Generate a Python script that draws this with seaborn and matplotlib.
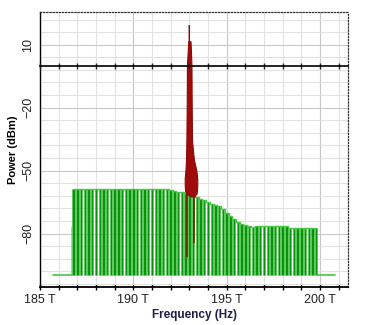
import numpy as np
import matplotlib
matplotlib.use("Agg")
import matplotlib.pyplot as plt
import seaborn as sns
import pandas as pd
from matplotlib.ticker import FixedLocator, MultipleLocator

# ---------------- data ----------------
channel_freq_thz = np.round(np.arange(186.8, 199.81, 0.2), 1)
channel_power_dbm = (
    [-59.0] * 19 +
    [-58.6] * 7 +
    [-59.2, -59.6, -60.0, -60.4, -60.9, -61.5, -62.0, -62.6, -63.4, -64.2,
     -65.0, -65.7, -66.3, -67.0, -68.4, -70.0, -71.5, -73.0, -74.3, -75.3,
     -76.0, -76.6, -76.7, -76.6, -76.3, -76.2] +
    [-76.2] * 6 +
    [-77.2] * 8
)
floor_dbm = -100.0
floor_left_freq = [185.7, 186.7]
floor_right_freq = [199.85, 200.8]
step_freq = [186.66]
step_power = [-76.2]

red_freq = [192.80, 192.78, 192.78, 192.82, 192.85, 192.87, 192.89, 192.90, 192.95, 192.97,
            192.995, 193.0, 193.005, 193.09, 193.12, 193.14, 193.15, 193.17, 193.27,
            193.40, 193.45, 193.45, 193.42, 193.30, 193.10, 192.90]
red_power = [-60, -57, -54, -50, -45, -36, -16, 0, 8, 11.4,
             11.4, 19.4, 11.4, 11.4, 5, 0, -16, -36, -45,
             -50, -54, -58, -61, -62.5, -62.5, -61.5]
red_line_freq = [192.85, 193.27]
red_line_bottom = [-91.0, -84.5]

x_major = [185, 190, 195, 200]
x_labels = ["185 T", "190 T", "195 T", "200 T"]
y_major = [10, -20, -50, -80]

# ---------------- figure ----------------
sns.set_style("white")
plt.rcParams["font.family"] = ["Liberation Sans", "DejaVu Sans"]

fig = plt.figure(figsize=(3.67, 3.25), dpi=100)
ax = fig.add_axes([40 / 367, 38 / 325, 308 / 367, 275 / 325])

green_fill = "#08940a"
green_edge = "#46c846"

comb = pd.DataFrame({"f": channel_freq_thz, "p": channel_power_dbm})
ax.bar(comb["f"], comb["p"] - floor_dbm, bottom=floor_dbm, width=0.13,
       color=green_fill, edgecolor=green_edge, linewidth=0.4, zorder=3)
ax.bar(step_freq, np.array(step_power) - floor_dbm, bottom=floor_dbm, width=0.05,
       color=green_fill, edgecolor=green_edge, linewidth=0.4, zorder=3)
sns.lineplot(data=comb, x="f", y="p", drawstyle="steps-mid", color=green_edge,
             linewidth=1.0, ax=ax, zorder=4)
sns.lineplot(x=floor_left_freq, y=[floor_dbm] * 2, color=green_edge, linewidth=1.2, ax=ax, zorder=4)
sns.lineplot(x=floor_right_freq, y=[floor_dbm] * 2, color=green_edge, linewidth=1.2, ax=ax, zorder=4)

# red signal
ax.vlines(red_line_freq, red_line_bottom, [-60, -60], color="#7a1e06", linewidth=1.2, zorder=5)
ax.fill(red_freq, red_power, color="#9e0b0b", zorder=6, linewidth=0.8, edgecolor="#8a0808")

# axes range
ax.set_xlim(185, 201.5)
ax.set_ylim(-105.5, 25.6)

# grid
ax.xaxis.set_major_locator(FixedLocator(x_major))
ax.xaxis.set_minor_locator(MultipleLocator(1))
ax.yaxis.set_major_locator(FixedLocator(y_major))
ax.yaxis.set_minor_locator(FixedLocator(list(range(22, -106, -6))))
ax.grid(which="minor", color="#e2e2e2", linewidth=0.8, zorder=0)
ax.grid(which="major", color="#c8c8c8", linewidth=0.8, zorder=0)
ax.set_axisbelow(True)

ax.set_xticklabels(x_labels)
ax.tick_params(axis="x", which="both", direction="inout", length=4, width=1,
               labelsize=9, pad=3, colors="black", labelcolor="#222222")
ax.tick_params(axis="y", which="both", direction="inout", length=4, width=1,
               labelsize=9, pad=2, colors="black", labelcolor="#222222")
for lab in ax.get_yticklabels():
    lab.set_rotation(90)
    lab.set_va("center")

# spines
ax.spines["left"].set_color("black")
ax.spines["left"].set_linewidth(1.0)
for s in ["top", "right"]:
    ax.spines[s].set_color("#333333")
    ax.spines[s].set_linestyle((0, (1, 1.5)))
    ax.spines[s].set_linewidth(0.9)
ax.spines["bottom"].set_color("black")
ax.spines["bottom"].set_linestyle((0, (1, 1)))
ax.spines["bottom"].set_linewidth(1.3)

# zero line with ticks
ax0 = ax.twiny()
ax0.set_xlim(ax.get_xlim())
ax0.spines["bottom"].set_position(("data", 0))
for s in ["top", "right", "left"]:
    ax0.spines[s].set_visible(False)
ax0.spines["bottom"].set_color("black")
ax0.spines["bottom"].set_linewidth(1.2)
ax0.xaxis.set_ticks_position("bottom")
ax0.xaxis.set_major_locator(MultipleLocator(1))
ax0.tick_params(axis="x", direction="inout", length=4, width=1, labelbottom=False, labeltop=False)
ax0.grid(False)

ax.set_xlabel("Frequency (Hz)", fontsize=8.5, fontweight="bold", color="#1a1f4d", labelpad=2)
ax.set_ylabel("Power (dBm)", fontsize=8, fontweight="bold", color="black", labelpad=3)

fig.savefig("out.png", dpi=100)
